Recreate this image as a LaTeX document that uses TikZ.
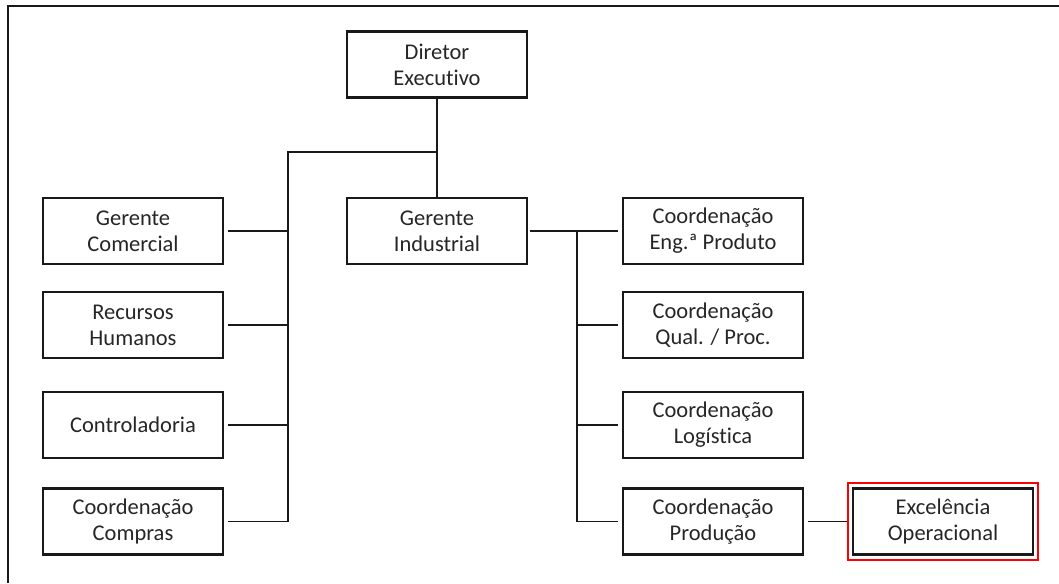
\documentclass[tikz,border=0pt]{standalone}
\usepackage{fontspec}
\setmainfont{Carlito}[Ligatures=NoCommon]
\usetikzlibrary{fit}
\begin{document}
\begin{tikzpicture}[x=1pt,y=-1pt,
  box/.style={draw=black!90, line width=2.6pt, minimum width=180pt, minimum height=66pt,
    align=center, font=\fontsize{22.5}{26}\selectfont, text=black!85, inner sep=0pt},
  link/.style={draw=black!90, line width=1.4pt},
  redframe/.style={draw=red, line width=2pt, inner sep=4pt}]
\useasboundingbox (0,0) rectangle (1059,583);
\draw[line width=2.2pt, black!90] (8,583) -- (8,6) -- (1059,6);
% top
\node[box] (dir) at (437,64.5) {Diretor\\Executivo};
% left column
\node[box] (com) at (133,231) {Gerente\\Comercial};
\node[box] (rh)  at (133,325) {Recursos\\Humanos};
\node[box] (ctl) at (133,425) {Controladoria};
\node[box] (cc)  at (133,521.5) {Coordenação\\Compras};
% middle
\node[box] (ind) at (437,231) {Gerente\\Industrial};
% right column
\node[box] (eng)  at (713,231) {Coordenação\\Eng.ª Produto};
\node[box] (qual) at (713,325) {Coordenação\\Qual. / Proc.};
\node[box] (log)  at (713,425) {Coordenação\\Logística};
\node[box] (prod) at (713,521.5) {Coordenação\\Produção};
% highlighted
\node[box] (exc) at (943,521.5) {Excelência\\Operacional};
\node[redframe, fit=(exc)] (excr) {};
% connectors
\coordinate (lbus) at (288,152);
\coordinate (rbus) at (577,231);
\draw[link] (dir.south) -- (ind.north);
\draw[link] (dir.south |- lbus) -- (lbus) -- (lbus |- cc.east);
\foreach \n in {com,rh,ctl,cc}
  \draw[link, shorten <=4pt] (\n.east) -- (lbus |- \n.east);
\draw[link, shorten <=2pt, shorten >=4pt] (ind.east) -- (eng.west);
\draw[link] (rbus) -- (rbus |- prod.west);
\foreach \n in {qual,log,prod}
  \draw[link, shorten >=4pt] (rbus |- \n.west) -- (\n.west);
\draw[link, shorten <=4pt] (prod.east) -- (excr.west);
\end{tikzpicture}
\end{document}
